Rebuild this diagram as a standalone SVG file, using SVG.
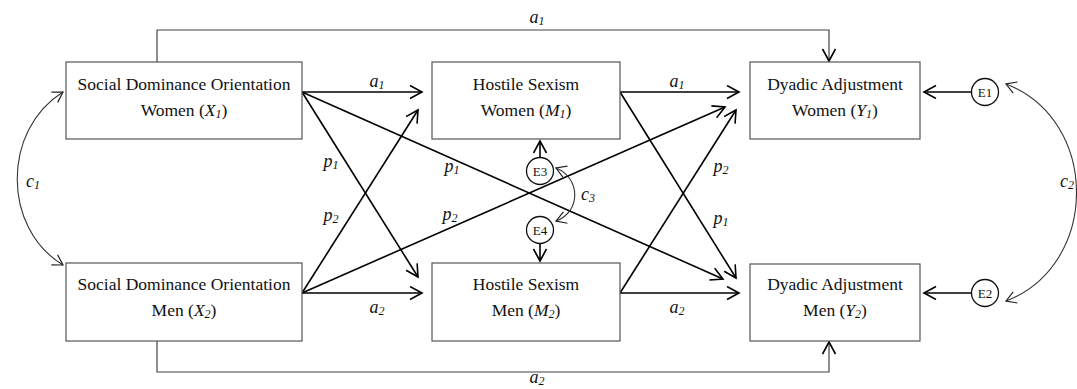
<svg xmlns="http://www.w3.org/2000/svg" width="1077" height="389" viewBox="0 0 1077 389">
<style>
.box{fill:#fff;stroke:#555;stroke-width:1.2}
.t{font-family:"Liberation Serif","Times New Roman",serif;font-size:17.5px;fill:#111;text-anchor:middle}
.i{font-style:italic}
.s{font-size:12px;font-style:italic}
.lbl{font-family:"Liberation Serif","Times New Roman",serif;font-size:18px;font-style:italic;fill:#111;text-anchor:middle}
.e{fill:#fff;stroke:#111;stroke-width:1.3}
.et{font-family:"Liberation Serif","Times New Roman",serif;font-size:13px;fill:#111;text-anchor:middle}
.a{fill:none;stroke:#000;stroke-width:1.6;marker-end:url(#ah)}
.r{fill:none;stroke:#444;stroke-width:1.2;marker-end:url(#ah)}
.c{fill:none;stroke:#333;stroke-width:1.1;marker-start:url(#ahs);marker-end:url(#ahs)}
</style>
<defs>
<marker id="ah" markerUnits="userSpaceOnUse" markerWidth="16" markerHeight="16" refX="13" refY="7" orient="auto">
<path d="M1,0.5 L13,7 L1,13.5" fill="none" stroke="#000" stroke-width="1.6"/>
</marker>
<marker id="ahs" markerUnits="userSpaceOnUse" markerWidth="16" markerHeight="16" refX="11" refY="7" orient="auto-start-reverse">
<path d="M1,1 L11,7 L1,13" fill="none" stroke="#222" stroke-width="1.2"/>
</marker>
</defs>

<g id="connectors">
<path class="r" d="M157,62 V30 H829 V61"/>
<path class="r" d="M157,341 V372 H829 V342"/>
<path class="a" d="M302,92 L422,92"/>
<path class="a" d="M302,92 L418,277"/>
<path class="a" d="M302,92 L723,279"/>
<path class="a" d="M302,293 L418,110"/>
<path class="a" d="M302,293 L725,107"/>
<path class="a" d="M302,293 L422,293"/>
<path class="a" d="M620,92 L739,92"/>
<path class="a" d="M620,92 L736,278"/>
<path class="a" d="M620,293 L736,110"/>
<path class="a" d="M620,293 L739,293"/>
<path class="a" d="M971,92 L924,92"/>
<path class="a" d="M971,293 L924,293"/>
<path class="a" d="M540,157 L540,141"/>
<path class="a" d="M540,244 L540,261"/>
<path class="c" d="M63,92 C2,130 2,228 63,265"/>
<path class="c" d="M1006,84 C1100,120 1100,265 1006,301"/>
<path class="c" d="M556,168 C581,178 581,212 556,221"/>
<text class="lbl" x="537" y="23">a<tspan class="s" dy="2">1</tspan></text>
<text class="lbl" x="537" y="383">a<tspan class="s" dy="2">2</tspan></text>
<text class="lbl" x="377" y="87">a<tspan class="s" dy="2">1</tspan></text>
<text class="lbl" x="677" y="87">a<tspan class="s" dy="2">1</tspan></text>
<text class="lbl" x="377" y="313">a<tspan class="s" dy="2">2</tspan></text>
<text class="lbl" x="677" y="313">a<tspan class="s" dy="2">2</tspan></text>
<text class="lbl" x="331" y="167">p<tspan class="s" dy="2">1</tspan></text>
<text class="lbl" x="452" y="172">p<tspan class="s" dy="2">1</tspan></text>
<text class="lbl" x="331" y="221">p<tspan class="s" dy="2">2</tspan></text>
<text class="lbl" x="450" y="220">p<tspan class="s" dy="2">2</tspan></text>
<text class="lbl" x="721" y="172">p<tspan class="s" dy="2">2</tspan></text>
<text class="lbl" x="721" y="224">p<tspan class="s" dy="2">1</tspan></text>
<text class="lbl" x="33" y="187">c<tspan class="s" dy="2">1</tspan></text>
<text class="lbl" x="1067" y="187">c<tspan class="s" dy="2">2</tspan></text>
<text class="lbl" x="588" y="200">c<tspan class="s" dy="2">3</tspan></text>
</g>

<g id="X1"><rect class="box" x="66" y="62" width="236" height="77"/>
<text class="t" x="184" y="90">Social Dominance Orientation</text>
<text class="t" x="184" y="116">Women (<tspan class="i">X</tspan><tspan class="s" dy="2">1</tspan><tspan dy="-2">)</tspan></text></g>
<g id="X2"><rect class="box" x="66" y="263" width="236" height="78"/>
<text class="t" x="184" y="290">Social Dominance Orientation</text>
<text class="t" x="184" y="316">Men (<tspan class="i">X</tspan><tspan class="s" dy="2">2</tspan><tspan dy="-2">)</tspan></text></g>
<g id="M1"><rect class="box" x="432" y="62" width="188" height="77"/>
<text class="t" x="526" y="90">Hostile Sexism</text>
<text class="t" x="526" y="116">Women (<tspan class="i">M</tspan><tspan class="s" dy="2">1</tspan><tspan dy="-2">)</tspan></text></g>
<g id="M2"><rect class="box" x="432" y="263" width="188" height="78"/>
<text class="t" x="526" y="290">Hostile Sexism</text>
<text class="t" x="526" y="316">Men (<tspan class="i">M</tspan><tspan class="s" dy="2">2</tspan><tspan dy="-2">)</tspan></text></g>
<g id="Y1"><rect class="box" x="750" y="62" width="170" height="77"/>
<text class="t" x="835" y="90">Dyadic Adjustment</text>
<text class="t" x="835" y="116">Women (<tspan class="i">Y</tspan><tspan class="s" dy="2">1</tspan><tspan dy="-2">)</tspan></text></g>
<g id="Y2"><rect class="box" x="750" y="264" width="170" height="77"/>
<text class="t" x="835" y="290">Dyadic Adjustment</text>
<text class="t" x="835" y="316">Men (<tspan class="i">Y</tspan><tspan class="s" dy="2">2</tspan><tspan dy="-2">)</tspan></text></g>
<g id="E1"><circle class="e" cx="985" cy="92" r="13.5"/><text class="et" x="985" y="96.5">E1</text></g>
<g id="E2"><circle class="e" cx="985" cy="293" r="13.5"/><text class="et" x="985" y="297.5">E2</text></g>
<g id="E3"><circle class="e" cx="540" cy="171" r="13.5"/><text class="et" x="540" y="175.5">E3</text></g>
<g id="E4"><circle class="e" cx="540" cy="230" r="13.5"/><text class="et" x="540" y="234.5">E4</text></g>
</svg>
